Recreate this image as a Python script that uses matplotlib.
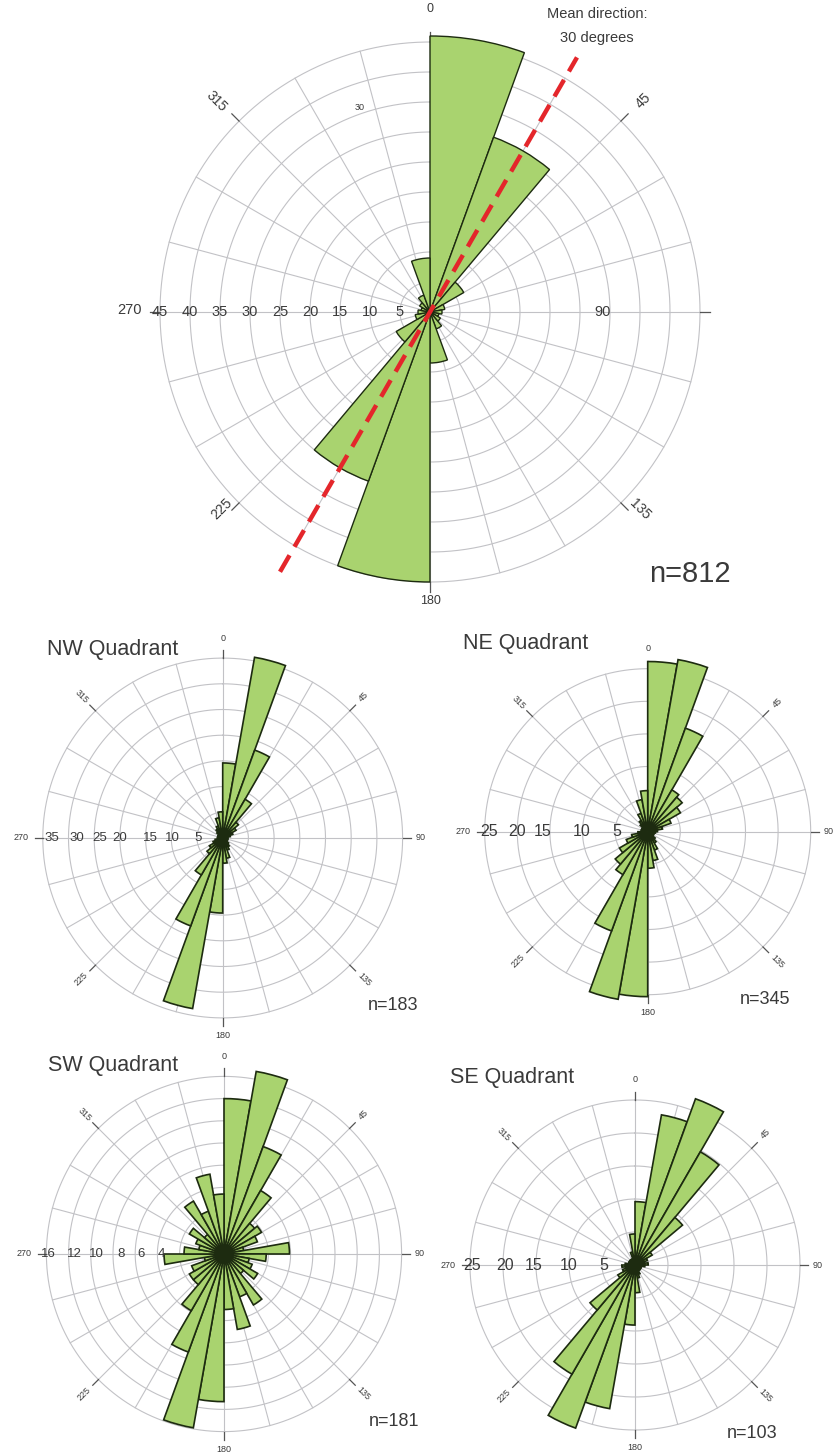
import numpy as np
import matplotlib.pyplot as plt

plt.rcParams['font.family'] = ['Liberation Sans', 'DejaVu Sans']

W, H = 838, 1454
FILL = '#a9d36f'
EDGE = '#1d2b10'
GRID = '#c2c2c6'
TICK = '#555555'
TEXT = '#3a3a3a'
RED = '#e4262b'

# directions in degrees, clockwise from north; bins start at these angles
main_bins = np.arange(0, 360, 20)
main_freq = [46, 31, 6.5, 2.5, 2, 1.5, 2, 3, 8.5,
             45, 30, 6.5, 2.5, 2, 1.5, 2, 3, 9]
mean_dir = 30
n_main = 812

quad_bins = np.arange(0, 360, 10)
nw_freq = [14.6, 35.7, 18.2, 8.7, 4, 3, 2.1, 1.5, 1, 1, 1, 1, 1, 1.5, 2, 2.5, 4, 4.9,
           14.6, 33.7, 18.2, 8.3, 4, 3, 2, 1.5, 1, 1, 1, 1, 1, 1.5, 2, 2.5, 4, 5.1]
ne_freq = [26.1, 26.8, 16.9, 7.4, 6.9, 5.8, 3.8, 2.3, 1.5, 1.2, 1, 1, 1, 1.5, 2, 3, 4.5, 5.6,
           25.3, 26.1, 16.2, 7.6, 6.5, 5, 3.5, 2.5, 1.5, 1, 1, 1, 1, 1.5, 2, 3, 5, 6.3]
sw_freq = [14.0, 16.7, 10.3, 6.6, 3.6, 3.9, 3.2, 1.8, 5.9, 3.8, 2.3, 2.7, 3.5, 2.3, 5.3, 4.1, 6.9, 5.0,
           13.3, 15.9, 9.4, 5.9, 3.6, 3.6, 3.1, 1.8, 5.4, 3.6, 2.3, 2.7, 3.6, 2.3, 5.5, 4.1, 7.3, 5.4]
se_freq = [9.6, 23.1, 26.8, 19.8, 9.4, 3, 2, 1.5, 2, 1.5, 1, 1, 1, 1, 1, 1.5, 2, 4.2,
           9.1, 22.1, 26.3, 19.1, 8.9, 3, 2, 1.5, 2, 1.5, 1, 1, 1, 1, 1, 1, 2, 4.7]
quad_n = {'NW': 183, 'NE': 345, 'SW': 181, 'SE': 103}

fig = plt.figure(figsize=(W / 100, H / 100), dpi=100)


def label(x, y, s, size, rot=0, ha='center'):
    fig.text(x / W, 1 - y / H, s, ha=ha, va='center', rotation=rot,
             fontsize=size, color=TEXT)


def rose(cx, cy, ppu, rmax):
    # polar axes centred on pixel (cx, cy), ppu pixels per radial unit
    r = rmax * ppu
    ax = fig.add_axes([(cx - r) / W, 1 - (cy + r) / H, 2 * r / W, 2 * r / H],
                      projection='polar')
    ax.set_theta_zero_location('N')
    ax.set_theta_direction(-1)
    ax.set_axis_off()
    return ax


def grid(ax, rings, tick):
    outer = rings[-1]
    t = np.linspace(0, 2 * np.pi, 400)
    for r in rings:
        ax.plot(t, np.full_like(t, r), color=GRID, lw=0.8, zorder=1)
    for a in np.deg2rad(np.arange(0, 360, 15)):
        ax.plot([a, a], [0, outer], color=GRID, lw=0.8, zorder=1)
    for a in np.deg2rad(np.arange(0, 360, 45)):
        ax.plot([a, a], [outer, outer + tick], color=TICK, lw=0.9, zorder=1)


def petals(ax, bins, freq, width, lw):
    ax.bar(np.deg2rad(bins), freq, width=np.deg2rad(width), align='edge',
           color=FILL, edgecolor=EDGE, linewidth=lw, zorder=3)


# ---- all data rose ----
ax = rose(430, 312, 6, 52)
grid(ax, np.arange(5, 50, 5), 1.7)
petals(ax, main_bins, main_freq, 20, 1.0)
th = np.deg2rad(mean_dir)
ax.plot([th + np.pi, th + np.pi, th, th], [50, 0, 0, 49], color=RED, lw=3.2,
        dashes=(4.3, 2.2), zorder=4)
for v in range(5, 50, 5):
    ax.text(np.deg2rad(270), v, str(v), ha='center', va='center',
            fontsize=10.5, color=TEXT, zorder=5)
ax.text(np.deg2rad(90), 28.8, '90', ha='center', va='center', fontsize=10.5,
        color=TEXT, zorder=5)
ax.text(np.deg2rad(341), 36, '30', ha='center', va='center', fontsize=6.5,
        color=TEXT, zorder=5)
ax.set_ylim(0, 52)

label(430, 9, '0', 9)
label(643, 101, '45', 10, 45)
label(216, 101, '315', 10, -45)
label(222, 509, '225', 10, 45)
label(640, 509, '135', 10, -45)
label(430, 601, '180', 9)
label(129, 310, '270', 10.5)
label(597, 14, 'Mean direction:', 10.5)
label(597, 38, '30 degrees', 10.5)
label(690, 574, f'n={n_main}', 21)

# ---- quadrant roses ----
quads = [
    # name, freq, centre, ppu, rings, ring label text, label radii, label size
    ('NW', nw_freq, (222.7, 838), 5.14, np.arange(5, 40, 5),
     ['35', '30', '25', '20', '15', '10', '5'], [33.3, 28.4, 23.9, 20, 14.1, 9.7, 4.8], 9.5),
    ('NE', ne_freq, (647.7, 831.7), 6.52, np.arange(5, 30, 5),
     ['25', '20', '15', '10', '5'], [24.4, 20.1, 16.1, 10.1, 4.8], 11.5),
    ('SW', sw_freq, (224, 1254), 11.1, np.arange(2, 18, 2),
     ['16', '12', '10', '8', '6', '4'], [15.8, 13.5, 11.5, 9.3, 7.5, 5.6], 9.5),
    ('SE', se_freq, (635, 1265), 6.6, np.arange(5, 30, 5),
     ['25', '20', '15', '10', '5'], [24.7, 19.7, 15.4, 10.1, 4.8], 11.5),
]

for name, freq, (cx, cy), ppu, rings, rtext, rpos, rsize in quads:
    rmax = 200 / ppu
    ax = rose(cx, cy, ppu, rmax)
    grid(ax, rings, 8 / ppu)
    petals(ax, quad_bins, freq, 10, 1.2)
    for s, r in zip(rtext, rpos):
        ax.text(np.deg2rad(270), r, s, ha='center', va='center',
                fontsize=rsize, color=TEXT, zorder=5)
    ax.set_ylim(0, rmax)

    R = rings[-1] * ppu
    d = R + 16
    dg = (R + 20) / np.sqrt(2)
    label(cx, cy - d - 4, '0', 6.5)
    label(cx, cy + d + 2, '180', 6.5)
    label(cx - d - 6, cy, '270', 6.5)
    label(cx + d + 2, cy, '90', 6.5)
    label(cx + dg, cy - dg, '45', 6.5, 45)
    label(cx - dg, cy - dg, '315', 6.5, -45)
    label(cx - dg, cy + dg, '225', 6.5, 45)
    label(cx + dg, cy + dg, '135', 6.5, -45)

    label(cx - 176 if name in ('NW', 'SW') else cx - 185, cy - 188, f'{name} Quadrant',
          15.5, ha='left')
    label(cx + 170 if name in ('NW', 'SW') else cx + 117, cy + 168, f'n={quad_n[name]}', 13)

fig.savefig('out.png', dpi=100)
